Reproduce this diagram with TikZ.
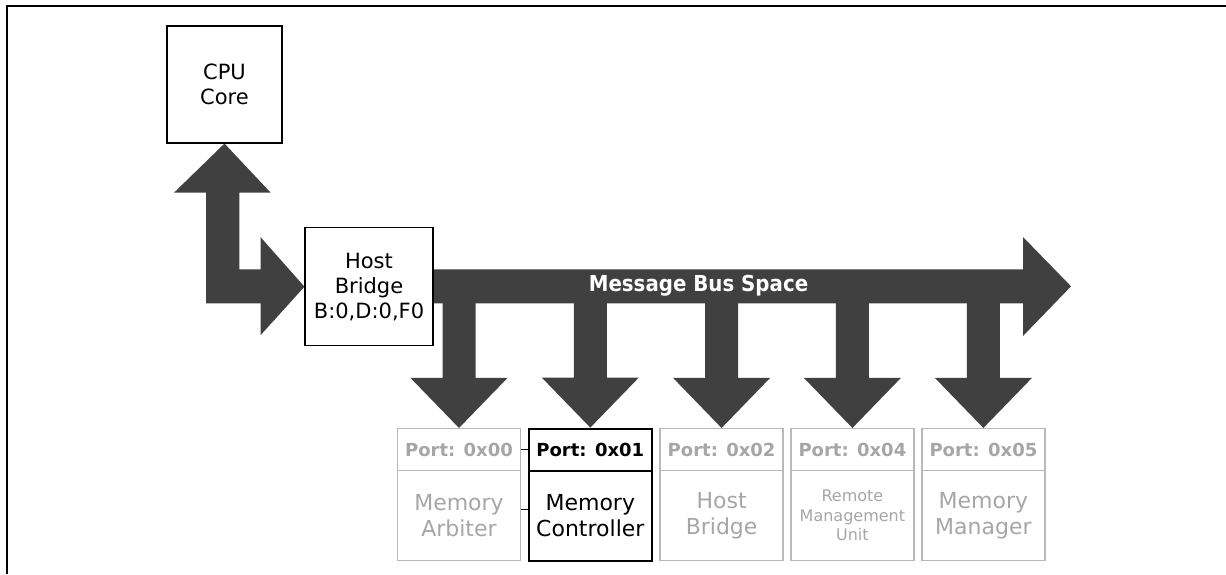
\documentclass[tikz,border=0pt]{standalone}
\usepackage{fontspec}
\setmainfont{DejaVu Sans}
\newfontfamily\busfont[FakeStretch=0.9]{DejaVu Sans}
\usetikzlibrary{backgrounds}
\definecolor{busdark}{HTML}{404040}
\definecolor{gtext}{HTML}{A6A6A6}
\definecolor{gline}{HTML}{B8B8B8}
\begin{document}
\begin{tikzpicture}[x=1pt,y=-1pt,
  mainbox/.style={draw=black, line width=1.1pt, align=center, inner sep=0pt, font=\fontsize{21}{25}\selectfont},
  porthead/.style={draw=gline, line width=1.3pt, minimum width=123pt, minimum height=42pt, inner sep=0pt, text=gtext, font=\bfseries\fontsize{18}{22}\selectfont},
  portbody/.style={draw=gline, line width=1.3pt, minimum width=123pt, minimum height=90pt, inner sep=0pt, align=center, text=gtext, font=\fontsize{22}{25.5}\selectfont},
  active/.style={draw=black, text=black, line width=2pt},
  busarrow/.style={fill=busdark, draw=none},
  tick/.style={draw=black, line width=1pt}]
\useasboundingbox (0,0) rectangle (1226,574);
% frame
\draw[line width=2pt] (7,574) -- (7,6) -- (1226,6);
% main boxes
\node[mainbox, minimum width=115pt, minimum height=117pt] (cpu) at (224.5,84.5) {CPU\\Core};
\node[mainbox, minimum width=128pt, minimum height=118pt] (hb) at (369,286.7) {Host\\Bridge\\B:0,D:0,F0};
% port boxes
\node[porthead] (p0) at (459,449.6) {Port: 0x00};
\node[porthead, active] (p1) at (590.3,449.6) {Port: 0x01};
\node[porthead] (p2) at (721.6,449.6) {Port: 0x02};
\node[porthead] (p3) at (852.4,449.6) {Port: 0x04};
\node[porthead] (p4) at (983.4,449.6) {Port: 0x05};
\node[portbody] (b0) at (459,515.7) {Memory\\Arbiter};
\node[portbody, active] (b1) at (590.3,515.7) {Memory\\Controller};
\node[portbody] (b2) at (721.6,515.7) {Host\\Bridge};
\node[portbody, font=\fontsize{16}{19.5}\selectfont] (b3) at (852.4,515.7) {Remote\\Management\\Unit};
\node[portbody] (b4) at (983.4,515.7) {Memory\\Manager};
% ticks between arbiter and controller
\draw[tick] (p0.east) -- (p1.west);
\draw[tick] ([yshift=6pt]b0.east) -- ([yshift=6pt]b1.west);
\begin{pgfonlayer}{background}
% CPU <-> host bridge bent arrow
\fill[busarrow] (cpu.south) -- (270.7,192.7) -- (239.3,192.7) -- (239.3,269.3) -- (260.7,269.3) -- (260.7,237.3) -- (hb.west) -- (260.7,335) -- (260.7,303.3) -- (206,303.3) -- (206,192.7) -- (174,192.7) -- cycle;
% message bus
\fill[busarrow] (hb.east |- 0,269.3) -- (1023,269.3) -- (1023,237) -- (1071,286.3) -- (1023,336) -- (1023,303.3) -- (hb.east |- 0,303.3) -- cycle;
% drops to ports
\foreach \i in {0,...,4}{
  \fill[busarrow, shift={(p\i.north)}] (0,0) -- (48.5,-50) -- (16.5,-50) -- (16.5,-128) -- (-16.5,-128) -- (-16.5,-50) -- (-48.5,-50) -- cycle;
}
\end{pgfonlayer}
\node[text=white, font=\busfont\bfseries\fontsize{22}{26}\selectfont] (bus) at (698.5,285.5) {Message Bus Space};
\end{tikzpicture}
\end{document}
